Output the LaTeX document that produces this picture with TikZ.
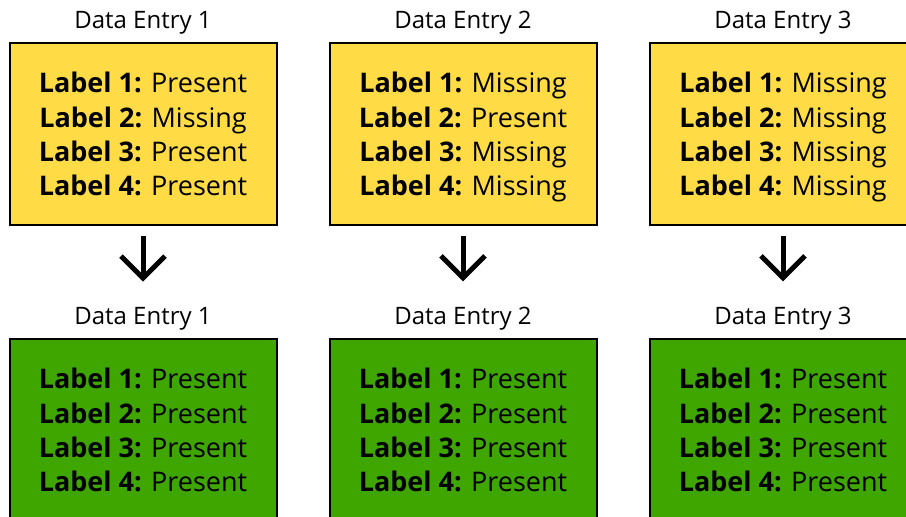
\documentclass[tikz,border=0pt]{standalone}
\usepackage{fontspec}
\setmainfont{Open Sans}
\usetikzlibrary{positioning,arrows.meta}
\definecolor{entryyellow}{HTML}{FFDC45}
\definecolor{entrygreen}{HTML}{3FA600}
\tikzset{
    entrybox/.style={
        rectangle,
        draw=black, % thin black frame
        line width=2pt,
        minimum width=267pt,
        minimum height=182pt,
        inner sep=0,
        text depth=0pt,
        align=center,
        font=\fontsize{27}{34.3}\selectfont
    },
    beforebox/.style={entrybox, fill=entryyellow},
    afterbox/.style={entrybox, fill=entrygreen},
    entrytitle/.style={
        inner sep=0,
        anchor=base,
        font=\fontsize{24}{28}\selectfont
    },
    fillarrow/.style={
        line width=5pt,
        -{Straight Barb[length=22pt,width=44pt]},
        shorten <=10pt,
        shorten >=25pt
    }
}

\begin{document}
\begin{tikzpicture}[node distance=51pt]
    \useasboundingbox (0,0) rectangle (906pt,-517pt);
    % entries before filling
    \node[beforebox] (before1) at (143pt,-134pt) {
        \textbf{Label 1:} Present\\
        \textbf{Label 2:} Missing\\
        \textbf{Label 3:} Present\\
        \textbf{Label 4:} Present};
    \node[beforebox, right=of before1] (before2) {
        \textbf{Label 1:} Missing\\
        \textbf{Label 2:} Present\\
        \textbf{Label 3:} Missing\\
        \textbf{Label 4:} Missing};
    \node[beforebox, right=of before2] (before3) {
        \textbf{Label 1:} Missing\\
        \textbf{Label 2:} Missing\\
        \textbf{Label 3:} Missing\\
        \textbf{Label 4:} Missing};
    % entries after filling
    \node[afterbox, below=112pt of before1] (after1) {
        \textbf{Label 1:} Present\\
        \textbf{Label 2:} Present\\
        \textbf{Label 3:} Present\\
        \textbf{Label 4:} Present};
    \node[afterbox, right=of after1] (after2) {
        \textbf{Label 1:} Present\\
        \textbf{Label 2:} Present\\
        \textbf{Label 3:} Present\\
        \textbf{Label 4:} Present};
    \node[afterbox, right=of after2] (after3) {
        \textbf{Label 1:} Present\\
        \textbf{Label 2:} Present\\
        \textbf{Label 3:} Present\\
        \textbf{Label 4:} Present};
    % titles
    \node[above=14pt of before1, entrytitle] (beforetitle1) {Data Entry 1};
    \node[above=14pt of before2, entrytitle] (beforetitle2) {Data Entry 2};
    \node[above=14pt of before3, entrytitle] (beforetitle3) {Data Entry 3};
    \node[above=14pt of after1, entrytitle] (aftertitle1) {Data Entry 1};
    \node[above=14pt of after2, entrytitle] (aftertitle2) {Data Entry 2};
    \node[above=14pt of after3, entrytitle] (aftertitle3) {Data Entry 3};
    % arrows
    \draw[fillarrow] (before1) -- (aftertitle1);
    \draw[fillarrow] (before2) -- (aftertitle2);
    \draw[fillarrow] (before3) -- (aftertitle3);
\end{tikzpicture}
\end{document}
